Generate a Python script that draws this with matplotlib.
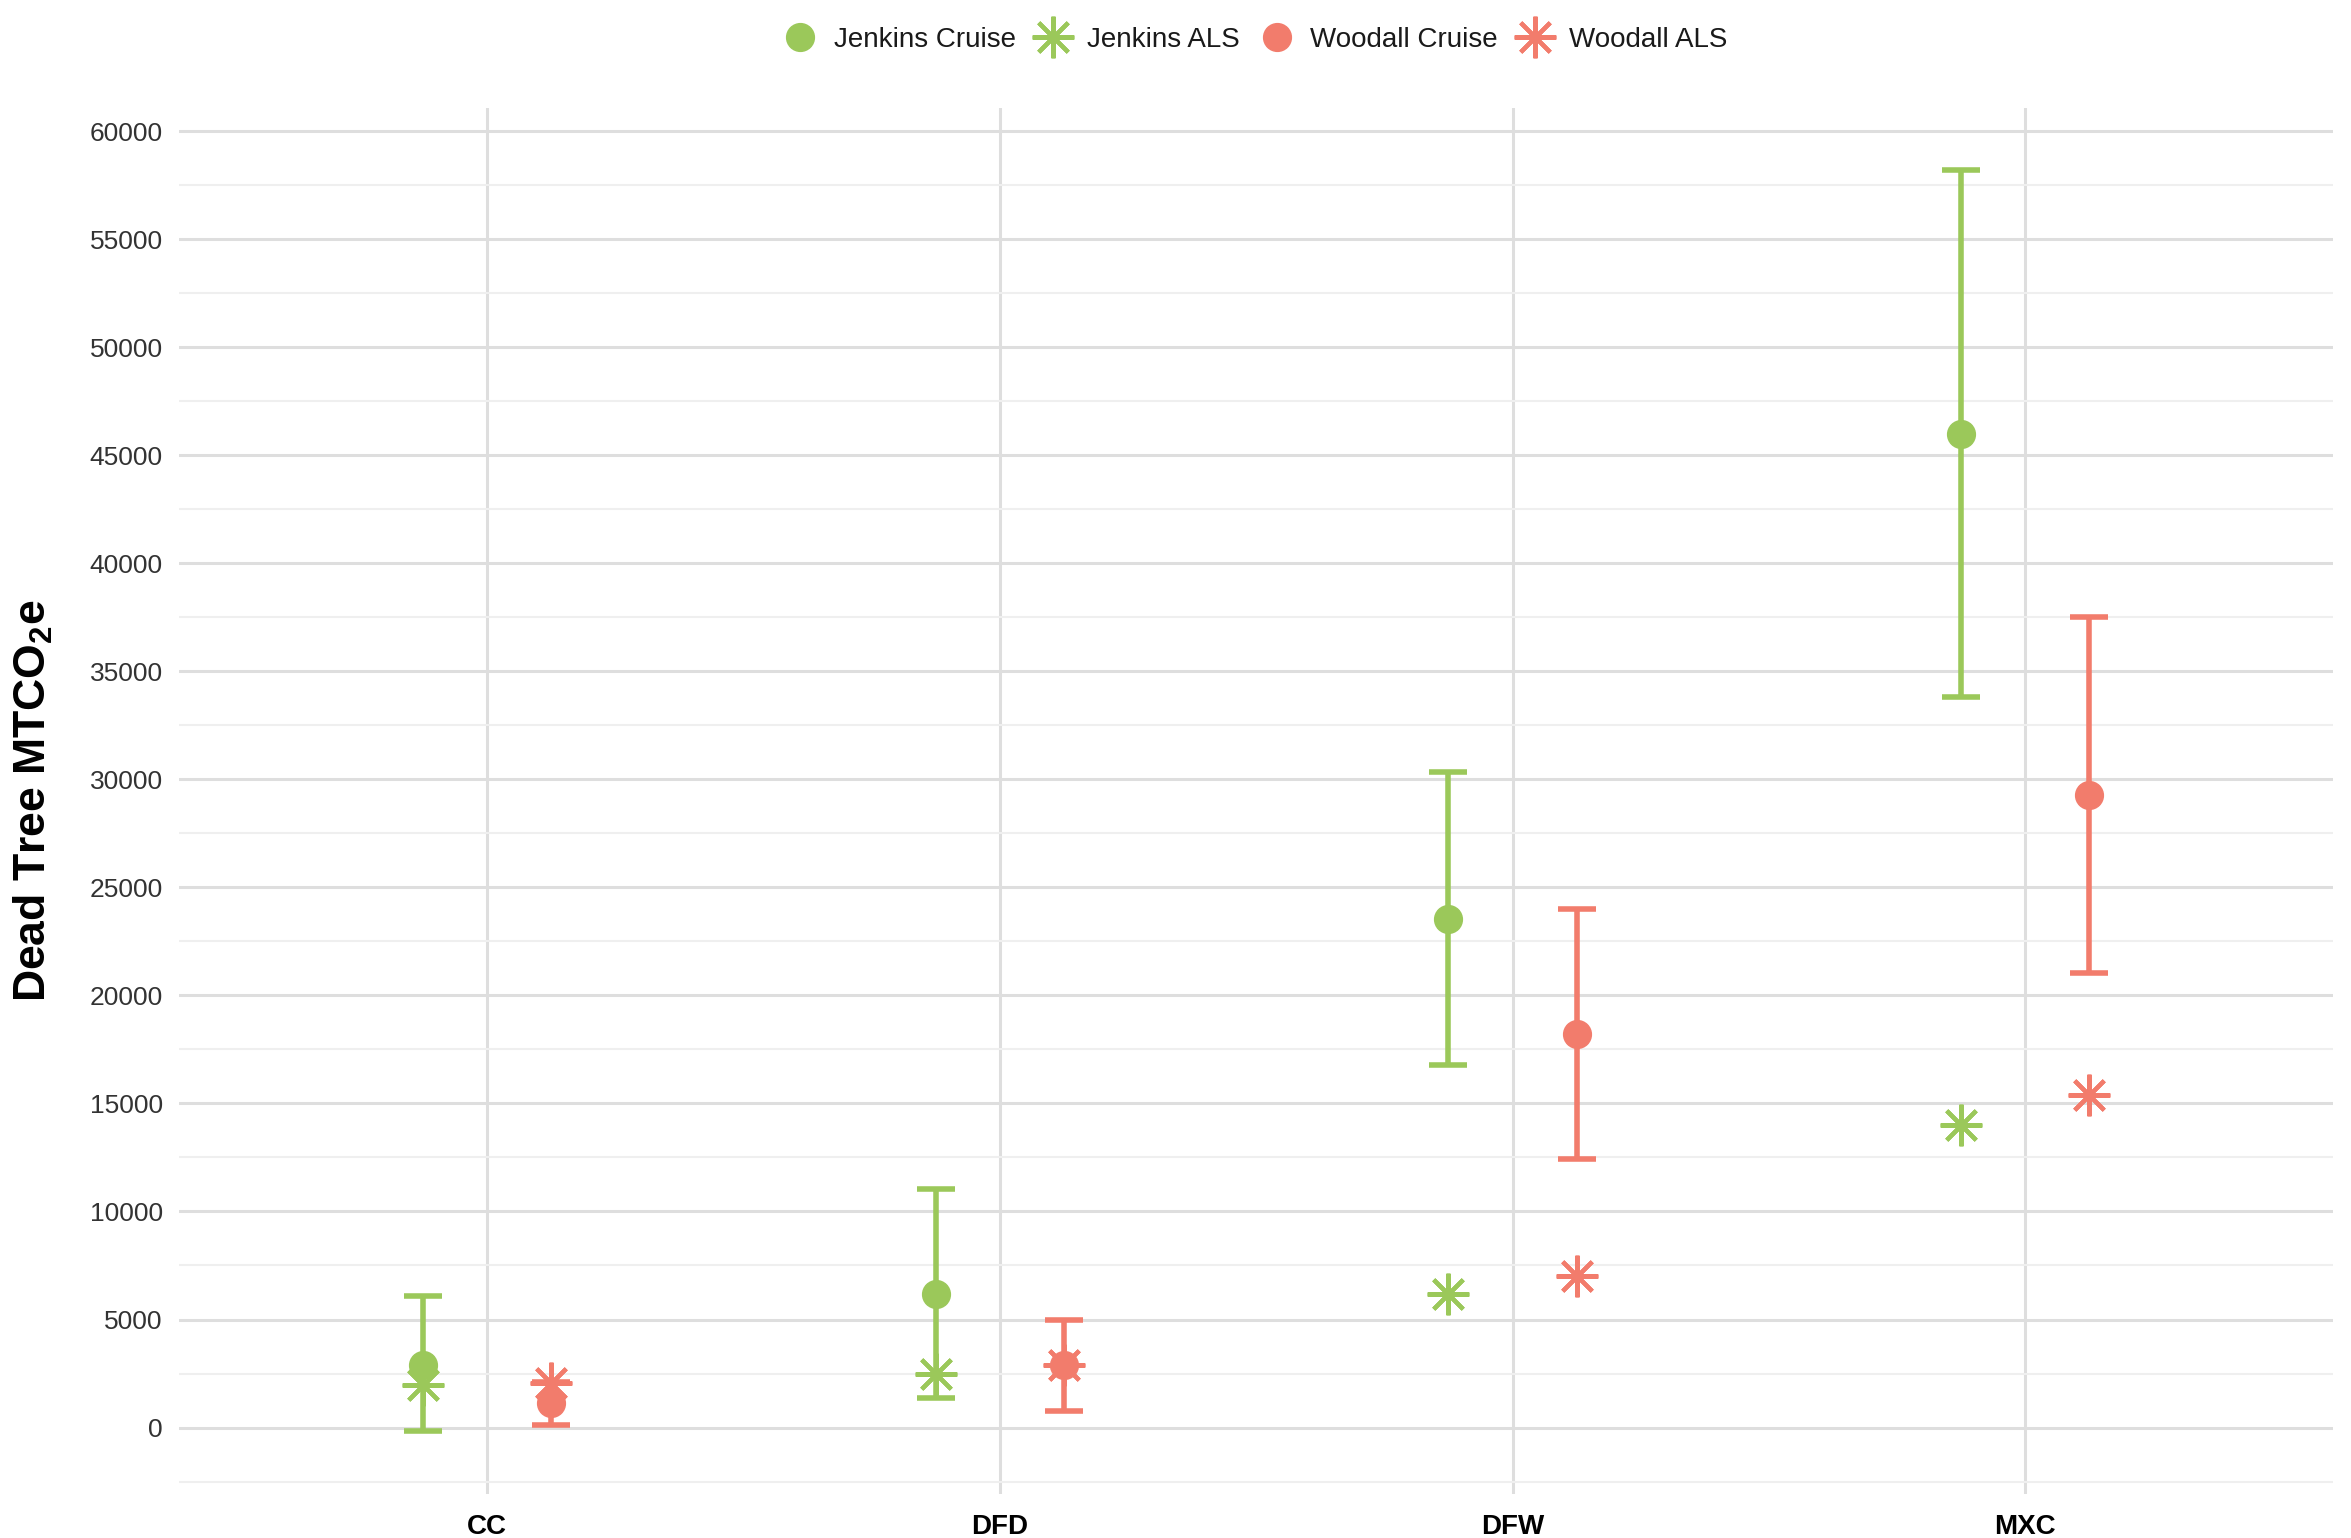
import numpy as np
import matplotlib.pyplot as plt
from matplotlib.lines import Line2D

# Values
sites = ['CC', 'DFD', 'DFW', 'MXC']

jenkins_cruise = [2900, 6200, 23550, 46000]
jenkins_lo = [-150, 1350, 16800, 33800]
jenkins_hi = [6100, 11050, 30350, 58200]
jenkins_als = [1950, 2500, 6200, 14000]

woodall_cruise = [1150, 2900, 18200, 29300]
woodall_lo = [100, 750, 12450, 21050]
woodall_hi = [2100, 5000, 24000, 37500]
woodall_als = [2050, 2900, 7000, 15400]

green = '#9bc85a'
red = '#f27c6c'

plt.rcParams['font.family'] = ['Liberation Sans', 'DejaVu Sans']

fig = plt.figure(figsize=(23.51, 15.38), dpi=100)
ax = fig.add_axes([0.0763, 0.0283, 0.916, 0.9017])

x = np.arange(len(sites))
dodge = 0.125
star = (8, 2, 0)


def draw_group(xpos, mid, lo, hi, als, col):
    mid = np.array(mid)
    yerr = [mid - np.array(lo), np.array(hi) - mid]
    ax.errorbar(xpos, mid, yerr=yerr, fmt='none', ecolor=col, elinewidth=4.0,
                capsize=13.5, capthick=4.0, zorder=3)
    ax.plot(xpos, mid, 'o', color=col, markersize=20, zorder=4)
    ax.plot(xpos, als, linestyle='none', marker=star, color=col, markersize=30,
            markeredgewidth=3.0, zorder=5)


draw_group(x - dodge, jenkins_cruise, jenkins_lo, jenkins_hi, jenkins_als, green)
draw_group(x + dodge, woodall_cruise, woodall_lo, woodall_hi, woodall_als, red)

ax.set_xlim(-0.6, len(sites) - 0.4)
ax.set_ylim(-3100, 61100)
ax.set_xticks(x)
ax.set_xticklabels(sites, fontsize=20, fontweight='bold', color='black')
ax.set_yticks(np.arange(0, 60001, 5000))
ax.set_yticks(np.arange(-2500, 61000, 5000), minor=True)
ax.tick_params(axis='y', which='major', labelsize=19, labelcolor='#333333', length=0, pad=12)
ax.tick_params(axis='y', which='minor', length=0)
ax.tick_params(axis='x', length=0, pad=14)

ax.grid(True, which='major', color='#dedede', linewidth=2.2, zorder=0)
ax.grid(True, which='minor', axis='y', color='#efefef', linewidth=1.5, zorder=0)
ax.set_axisbelow(True)
for s in ax.spines.values():
    s.set_visible(False)

fig.text(0.014, 0.4792, 'Dead Tree MTCO$_\\mathregular{2}$e', rotation=90, fontsize=32,
         fontweight='bold', ha='center', va='center')

handles = [
    Line2D([], [], linestyle='none', marker='o', color=green, markersize=20),
    Line2D([], [], linestyle='none', marker=star, color=green, markersize=30, markeredgewidth=3.0),
    Line2D([], [], linestyle='none', marker='o', color=red, markersize=20),
    Line2D([], [], linestyle='none', marker=star, color=red, markersize=30, markeredgewidth=3.0),
]
labels = ['Jenkins Cruise', 'Jenkins ALS', 'Woodall Cruise', 'Woodall ALS']
fig.legend(handles, labels, loc='center', bbox_to_anchor=(0.534, 0.974), ncol=4,
           frameon=False, fontsize=20, handlelength=1.2, handletextpad=0.6,
           columnspacing=0.75, labelcolor='#1a1a1a')

fig.savefig('out.png', dpi=100, facecolor='white')
